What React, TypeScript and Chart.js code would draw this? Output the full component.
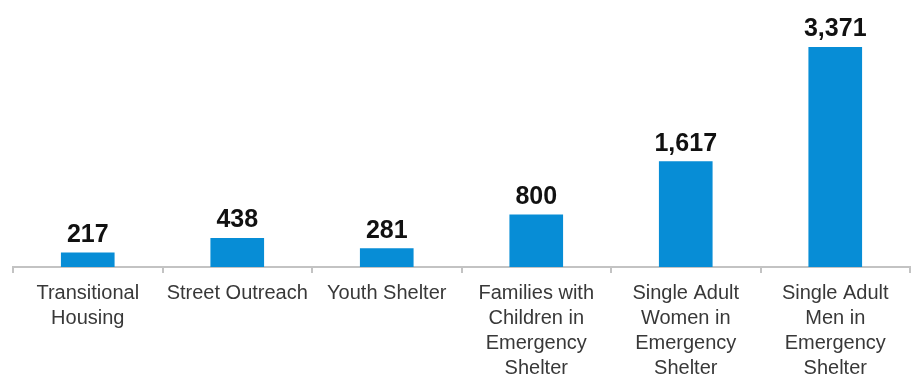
import React, { useEffect, useRef } from "react";
import { Chart, registerables } from "chart.js";

Chart.register(...registerables);

const categories: string[][] = [
  ["Transitional", "Housing"],
  ["Street Outreach"],
  ["Youth Shelter"],
  ["Families with", "Children in", "Emergency", "Shelter"],
  ["Single Adult", "Women in", "Emergency", "Shelter"],
  ["Single Adult", "Men in", "Emergency", "Shelter"],
];
const values: number[] = [217, 438, 281, 800, 1617, 3371];

const valueLabels = {
  id: "valueLabels",
  afterDatasetsDraw(chart: any) {
    const ctx = chart.ctx;
    const meta = chart.getDatasetMeta(0);
    ctx.save();
    ctx.font = "bold 25px 'Liberation Sans', Arial, sans-serif";
    ctx.fillStyle = "#111111";
    ctx.textAlign = "center";
    ctx.textBaseline = "alphabetic";
    meta.data.forEach((el: any, i: number) => {
      const v = chart.data.datasets[0].data[i] as number;
      ctx.fillText(v.toLocaleString("en-US"), el.x, el.y - 11);
    });
    ctx.restore();
  },
};

export default function App() {
  const ref = useRef<HTMLCanvasElement>(null);
  useEffect(() => {
    if (!ref.current) return;
    const chart = new Chart(ref.current, {
      type: "bar",
      data: {
        labels: categories,
        datasets: [
          {
            data: values,
            backgroundColor: "#078dd6",
            barThickness: 53,
          },
        ],
      },
      options: {
        animation: false,
        responsive: false,
        layout: { padding: { left: 13, right: 2, top: 20, bottom: 0 } },
        plugins: { legend: { display: false }, tooltip: { enabled: false } },
        scales: {
          x: {
            grid: {
              offset: true,
              drawOnChartArea: false,
              drawTicks: true,
              tickLength: 6,
              color: "#c3c3c3",
              lineWidth: 2,
            },
            border: { display: true, color: "#c3c3c3", width: 2 },
            ticks: {
              color: "#383838",
              padding: 8,
              maxRotation: 0,
              autoSkip: false,
              font: { family: "'Liberation Sans', Arial, sans-serif", size: 20, lineHeight: 1.25 },
            },
          },
          y: {
            display: false,
            min: 0,
            max: 3790,
          },
        },
      },
      plugins: [valueLabels],
    });
    return () => chart.destroy();
  }, []);
  return (
    <div style={{ position: "absolute", left: 0, top: 0, width: 912, height: 377, overflow: "hidden", background: "#fff" }}>
      <canvas ref={ref} width={912} height={389} />
    </div>
  );
}
